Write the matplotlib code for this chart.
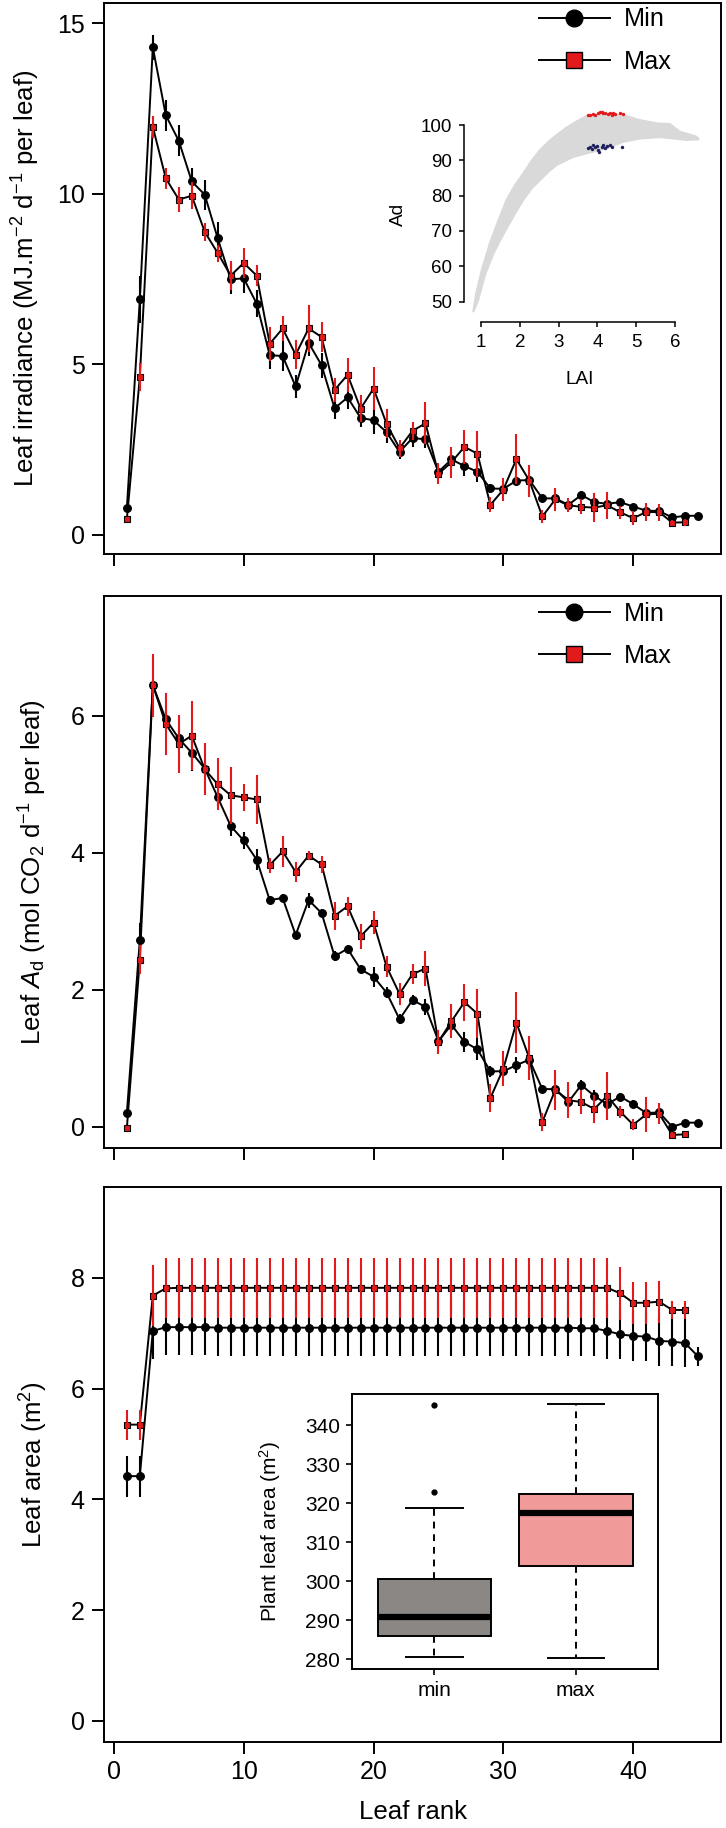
import numpy as np
import matplotlib.pyplot as plt
from matplotlib.lines import Line2D

plt.rcParams['font.family'] = ['Liberation Sans', 'DejaVu Sans']
plt.rcParams['mathtext.fontset'] = 'custom'
plt.rcParams['mathtext.rm'] = 'Liberation Sans'
plt.rcParams['mathtext.it'] = 'Liberation Sans:italic'
plt.rcParams['mathtext.bf'] = 'Liberation Sans:bold'

# ---- data ----
rank_min = np.arange(1, 46)
rank_max = np.arange(1, 45)

irr_min = [0.78, 6.9, 14.29, 12.3, 11.55, 10.36, 9.97, 8.69, 7.49, 7.52,
           6.78, 5.27, 5.24, 4.35, 5.63, 4.97, 3.71, 4.03, 3.43, 3.36,
           3.01, 2.43, 2.84, 2.80, 1.85, 2.21, 2.02, 1.85, 1.36, 1.35,
           1.59, 1.61, 1.07, 1.07, 0.88, 1.17, 0.96, 0.91, 0.96, 0.83,
           0.71, 0.70, 0.51, 0.56, 0.56]
irr_min_err = [0.05, 0.68, 0.37, 0.45, 0.45, 0.40, 0.44, 0.47, 0.44, 0.42,
               0.40, 0.41, 0.44, 0.33, 0.40, 0.36, 0.32, 0.33, 0.26, 0.40,
               0.32, 0.20, 0.27, 0.25, 0.20, 0.25, 0.30, 0.30, 0.12, 0.12,
               0.15, 0.15, 0.10, 0.10, 0.12, 0.12, 0.10, 0.10, 0.10, 0.08,
               0.10, 0.10, 0.08, 0.08, 0.08]
irr_max = [0.46, 4.63, 11.96, 10.45, 9.83, 9.94, 8.88, 8.26, 7.60, 7.97,
           7.60, 5.60, 6.05, 5.28, 6.05, 5.80, 4.25, 4.69, 3.70, 4.29,
           3.26, 2.54, 3.05, 3.27, 1.79, 2.13, 2.58, 2.38, 0.88, 1.33,
           2.22, 1.59, 0.54, 1.04, 0.87, 0.82, 0.80, 0.87, 0.66, 0.49,
           0.67, 0.67, 0.36, 0.37]
irr_max_err = [0.05, 0.40, 0.33, 0.30, 0.37, 0.40, 0.26, 0.25, 0.42, 0.45,
               0.30, 0.49, 0.36, 0.42, 0.70, 0.45, 0.35, 0.49, 0.39, 0.63,
               0.43, 0.25, 0.27, 0.62, 0.31, 0.45, 0.49, 0.67, 0.22, 0.34,
               0.73, 0.47, 0.20, 0.34, 0.20, 0.22, 0.42, 0.40, 0.20, 0.21,
               0.26, 0.25, 0.09, 0.10]

ad_min = [0.20, 2.73, 6.45, 5.95, 5.67, 5.46, 5.23, 4.81, 4.39, 4.18,
          3.90, 3.31, 3.34, 2.80, 3.31, 3.12, 2.49, 2.60, 2.30, 2.19,
          1.96, 1.57, 1.85, 1.75, 1.25, 1.49, 1.24, 1.13, 0.81, 0.81,
          0.90, 0.98, 0.55, 0.55, 0.36, 0.61, 0.45, 0.33, 0.44, 0.33,
          0.20, 0.21, 0.00, 0.06, 0.06]
ad_min_err = [0.03, 0.25, 0.08, 0.12, 0.15, 0.26, 0.12, 0.12, 0.15, 0.12,
              0.15, 0.06, 0.06, 0.05, 0.11, 0.06, 0.07, 0.06, 0.06, 0.15,
              0.08, 0.07, 0.07, 0.12, 0.10, 0.10, 0.15, 0.16, 0.08, 0.08,
              0.12, 0.10, 0.06, 0.06, 0.06, 0.08, 0.08, 0.06, 0.06, 0.06,
              0.05, 0.05, 0.04, 0.04, 0.04]
ad_max = [-0.02, 2.44, 6.45, 5.88, 5.59, 5.71, 5.22, 5.00, 4.84, 4.81,
          4.78, 3.82, 4.02, 3.72, 3.96, 3.83, 3.08, 3.22, 2.78, 2.98,
          2.34, 1.94, 2.23, 2.31, 1.24, 1.54, 1.82, 1.65, 0.42, 0.85,
          1.52, 1.00, 0.07, 0.54, 0.39, 0.36, 0.26, 0.45, 0.22, 0.03,
          0.18, 0.19, -0.12, -0.11]
ad_max_err = [0.03, 0.21, 0.46, 0.45, 0.42, 0.50, 0.38, 0.38, 0.42, 0.20,
              0.36, 0.11, 0.22, 0.14, 0.06, 0.13, 0.20, 0.14, 0.18, 0.17,
              0.15, 0.16, 0.15, 0.25, 0.18, 0.25, 0.27, 0.36, 0.20, 0.25,
              0.45, 0.32, 0.13, 0.29, 0.26, 0.18, 0.20, 0.35, 0.09, 0.08,
              0.25, 0.15, 0.05, 0.04]

area_min = [4.42, 4.42, 7.04, 7.11, 7.11, 7.11, 7.11, 7.10, 7.10, 7.10,
            7.10, 7.10, 7.10, 7.10, 7.10, 7.10, 7.10, 7.10, 7.10, 7.10,
            7.10, 7.10, 7.10, 7.10, 7.10, 7.10, 7.10, 7.10, 7.10, 7.10,
            7.10, 7.10, 7.10, 7.10, 7.10, 7.09, 7.09, 7.04, 6.98, 6.95,
            6.94, 6.86, 6.85, 6.82, 6.58]
area_min_err = [0.37, 0.37, 0.50, 0.51, 0.51, 0.51, 0.51, 0.51, 0.51, 0.51,
                0.51, 0.51, 0.51, 0.51, 0.51, 0.51, 0.51, 0.51, 0.51, 0.51,
                0.51, 0.51, 0.51, 0.51, 0.51, 0.51, 0.51, 0.51, 0.51, 0.51,
                0.51, 0.51, 0.51, 0.51, 0.51, 0.51, 0.51, 0.51, 0.45, 0.45,
                0.45, 0.45, 0.45, 0.43, 0.17]
area_max = [5.35, 5.35, 7.68, 7.81, 7.82, 7.82, 7.82, 7.82, 7.82, 7.82,
            7.82, 7.82, 7.82, 7.82, 7.82, 7.82, 7.82, 7.82, 7.82, 7.82,
            7.82, 7.82, 7.82, 7.82, 7.82, 7.82, 7.82, 7.82, 7.82, 7.82,
            7.82, 7.82, 7.82, 7.82, 7.82, 7.82, 7.82, 7.82, 7.72, 7.55,
            7.55, 7.57, 7.42, 7.42]
area_max_err = [0.27, 0.27, 0.55, 0.54, 0.54, 0.54, 0.54, 0.54, 0.54, 0.54,
                0.54, 0.54, 0.54, 0.54, 0.54, 0.54, 0.54, 0.54, 0.54, 0.54,
                0.54, 0.54, 0.54, 0.54, 0.54, 0.54, 0.54, 0.54, 0.54, 0.54,
                0.54, 0.54, 0.54, 0.54, 0.54, 0.54, 0.54, 0.54, 0.48, 0.38,
                0.38, 0.38, 0.17, 0.17]

# inset scatter: outline of the grey LAI/Ad cloud and the selected points
cloud_up_lai = [0.80, 0.88, 1.02, 1.23, 1.45, 1.66, 1.88, 2.09, 2.30, 2.52,
                2.74, 2.95, 3.17, 3.38, 3.72, 4.10, 4.67, 5.10, 5.53, 5.87,
                6.13, 6.54, 6.62]
cloud_up_ad = [47.0, 52.5, 58.9, 66.5, 73.0, 78.8, 83.0, 86.3, 89.8, 92.9,
               95.3, 97.2, 99.0, 100.5, 102.6, 103.0, 102.8, 101.4, 100.5, 100.3,
               98.1, 96.8, 96.0]
cloud_lo_lai = [0.80, 0.93, 1.10, 1.32, 1.50, 1.66, 1.88, 2.09, 2.30, 2.52,
                2.74, 2.95, 3.17, 3.38, 3.72, 4.24, 4.67, 5.10, 5.60, 5.96,
                6.30, 6.62]
cloud_lo_ad = [47.0, 50.5, 57.5, 63.6, 67.5, 70.7, 75.0, 78.8, 82.0, 84.4,
               86.8, 88.7, 89.9, 91.0, 92.0, 93.4, 95.3, 96.2, 96.6, 96.2,
               95.8, 96.0]
sel_max_lai = [3.75, 3.81, 3.88, 3.94, 4.02, 4.07, 4.11, 4.15, 4.20, 4.28,
               4.32, 4.37, 4.41, 4.45, 4.58, 4.65]
sel_max_ad = [102.9, 103.0, 103.1, 102.9, 103.3, 103.6, 103.8, 103.3, 103.5, 103.1,
              103.3, 103.0, 103.5, 103.1, 103.3, 103.1]
sel_min_lai = [3.75, 3.81, 3.85, 3.89, 3.94, 3.98, 4.02, 4.05, 4.11, 4.15,
               4.20, 4.24, 4.32, 4.37, 4.63]
sel_min_ad = [93.4, 93.9, 93.1, 94.3, 93.7, 94.1, 92.9, 92.3, 93.9, 94.3,
              93.4, 94.1, 94.3, 93.9, 93.7]

# inset boxplot: plant leaf area
box_labels = ['min', 'max']
box_whislo = [280.6, 280.2]
box_q1 = [285.9, 303.9]
box_med = [290.8, 317.4]
box_q3 = [300.6, 322.3]
box_whishi = [318.8, 345.5]
box_fliers = [[322.8, 345.1], []]
box_colors = ['#8b8784', '#f19a9a']

RED = '#e31a1c'
W, H = 726, 1828


def px_box(l, t, r, b):
    return [l / W, 1 - b / H, (r - l) / W, (b - t) / H]


def draw_series(ax, ranks, vals, errs, marker, face, ecol, ms, z):
    vals = np.asarray(vals)
    errs = np.asarray(errs)
    ax.plot(ranks, vals, color='black', lw=1.4, zorder=z)
    ax.plot(ranks, vals, ls='none', marker=marker, ms=ms, mfc=face,
            mec='black', mew=0.8, zorder=z + 1)
    ax.vlines(ranks, vals - errs, vals + errs, color=ecol, lw=1.5, zorder=z + 2)


def style_main(ax, ylim, yticks, labels=False):
    ax.set_xlim(-0.76, 46.76)
    ax.set_ylim(*ylim)
    ax.set_xticks([0, 10, 20, 30, 40])
    ax.set_yticks(yticks)
    ax.tick_params(direction='out', length=8.3, width=1.4, labelsize=18)
    ax.tick_params(axis='x', pad=4.5, labelbottom=labels)
    ax.tick_params(axis='y', pad=5.5)
    for s in ax.spines.values():
        s.set_linewidth(1.4)


def add_legend(ax, y):
    h = [Line2D([], [], color='black', lw=1.4, marker='o', ms=12,
                mfc='black', mec='black'),
         Line2D([], [], color='black', lw=1.4, marker='s', ms=11,
                mfc=RED, mec='black', mew=1)]
    ax.legend(h, ['Min', 'Max'], loc='upper left', bbox_to_anchor=(0.705, y),
              frameon=False, fontsize=18.2, handlelength=2.8, handletextpad=0.55,
              labelspacing=0.72, borderpad=0, borderaxespad=0)


fig = plt.figure(figsize=(W / 100, H / 100), dpi=100)

# --- top panel: leaf irradiance ---
ax1 = fig.add_axes(px_box(104, 3, 721, 554))
draw_series(ax1, rank_min, irr_min, irr_min_err, 'o', 'black', 'black', 5.6, 2)
draw_series(ax1, rank_max, irr_max, irr_max_err, 's', RED, RED, 4.6, 5)
style_main(ax1, (-0.56, 15.59), [0, 5, 10, 15])
add_legend(ax1, 0.992)

# inset scatter LAI vs Ad
axs = fig.add_axes(px_box(464, 105, 706, 322))
axs.patch.set_alpha(0)
axs.fill(np.concatenate([cloud_up_lai, cloud_lo_lai[::-1]]),
         np.concatenate([cloud_up_ad, cloud_lo_ad[::-1]]),
         color='#d9d9d9', lw=1.5, ec='#d9d9d9')
axs.scatter(sel_max_lai, sel_max_ad, s=6, color=RED, lw=0)
axs.scatter(sel_min_lai, sel_min_ad, s=6, color='#1f1f5e', lw=0)
axs.set_xlim(0.562, 6.8)
axs.set_ylim(44.2, 105.7)
axs.set_xticks([1, 2, 3, 4, 5, 6])
axs.set_yticks([50, 60, 70, 80, 90, 100])
axs.spines['top'].set_visible(False)
axs.spines['right'].set_visible(False)
axs.spines['left'].set_bounds(50, 100)
axs.spines['bottom'].set_bounds(1, 6)
for s in ['left', 'bottom']:
    axs.spines[s].set_linewidth(1.1)
axs.tick_params(direction='out', length=3.6, width=1.1, labelsize=13.5, pad=5)
fig.text(580 / W, 1 - 379 / H, 'LAI', fontsize=13.7, ha='center', va='center')
fig.text(398 / W, 1 - 214 / H, 'Ad', fontsize=13.7, ha='center', va='center',
         rotation=90)

# --- middle panel: leaf Ad ---
ax2 = fig.add_axes(px_box(104, 596, 721, 1148))
draw_series(ax2, rank_min, ad_min, ad_min_err, 'o', 'black', 'black', 5.6, 2)
draw_series(ax2, rank_max, ad_max, ad_max_err, 's', RED, RED, 4.6, 5)
style_main(ax2, (-0.31, 7.75), [0, 2, 4, 6])
add_legend(ax2, 0.990)

# --- bottom panel: leaf area ---
ax3 = fig.add_axes(px_box(104, 1187, 721, 1742))
draw_series(ax3, rank_min, area_min, area_min_err, 'o', 'black', 'black', 5.6, 2)
draw_series(ax3, rank_max, area_max, area_max_err, 's', RED, RED, 4.6, 5)
style_main(ax3, (-0.38, 9.64), [0, 2, 4, 6, 8], labels=True)

# inset boxplot
axb = fig.add_axes(px_box(352, 1394, 658, 1669))
stats = []
for i in range(2):
    stats.append(dict(label=box_labels[i], whislo=box_whislo[i], q1=box_q1[i],
                      med=box_med[i], q3=box_q3[i], whishi=box_whishi[i],
                      fliers=box_fliers[i]))
res = axb.bxp(stats, positions=[1, 2], widths=0.8, capwidths=0.4,
              patch_artist=True,
              boxprops=dict(lw=1.4, edgecolor='black'),
              medianprops=dict(color='black', lw=4.5, solid_capstyle='butt'),
              whiskerprops=dict(color='black', lw=1.4, ls=(0, (3.5, 3))),
              capprops=dict(color='black', lw=1.4),
              flierprops=dict(marker='o', mfc='black', mec='black', ms=3.5))
for patch, c in zip(res['boxes'], box_colors):
    patch.set_facecolor(c)
axb.set_xlim(0.42, 2.58)
axb.set_ylim(277.44, 347.95)
axb.set_yticks([280, 290, 300, 310, 320, 330, 340])
axb.tick_params(direction='out', length=4.5, width=1.2, labelsize=15, pad=4)
for s in axb.spines.values():
    s.set_linewidth(1.4)
fig.text(270 / W, 1 - 1531 / H, 'Plant leaf area (m$^2$)', fontsize=15,
         ha='center', va='center', rotation=90)

# axis labels
fig.text(26 / W, 1 - 278.5 / H, 'Leaf irradiance (MJ.m$^{-2}$ d$^{-1}$ per leaf)',
         fontsize=18.6, ha='center', va='center', rotation=90)
fig.text(33 / W, 1 - 872 / H,
         r'Leaf $\mathit{A}_\mathrm{d}$ (mol CO$_2$ d$^{-1}$ per leaf)',
         fontsize=18.6, ha='center', va='center', rotation=90)
fig.text(34 / W, 1 - 1464.5 / H, 'Leaf area (m$^2$)',
         fontsize=18.6, ha='center', va='center', rotation=90)
fig.text(413 / W, 1 - 1812 / H, 'Leaf rank', fontsize=18.6,
         ha='center', va='center')

fig.savefig('out.png', dpi=100)
